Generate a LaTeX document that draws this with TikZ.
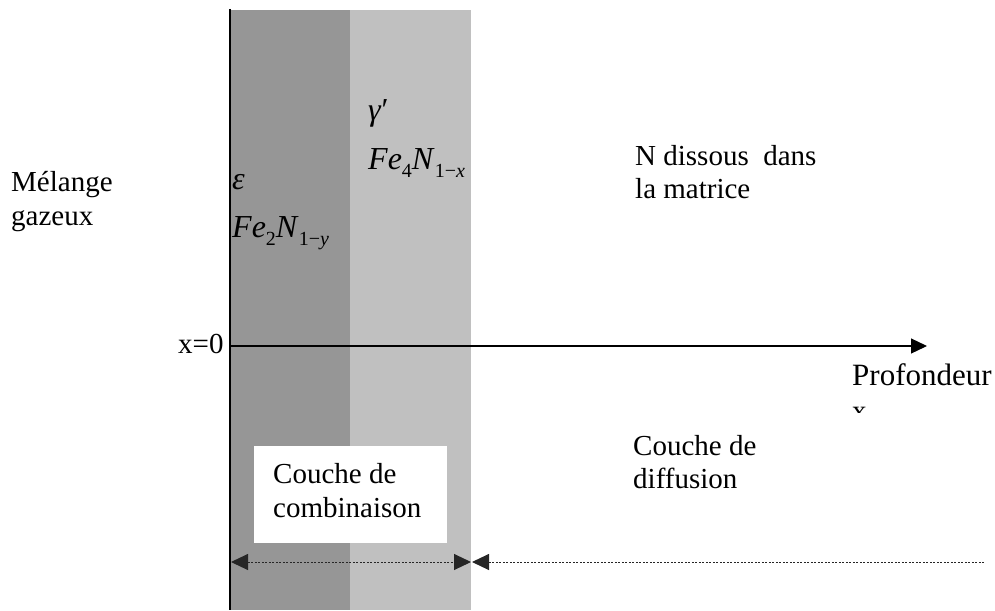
\documentclass[tikz,border=0pt]{standalone}
\usepackage{fontspec}
\setmainfont{Liberation Serif}
\usetikzlibrary{arrows.meta}
\definecolor{darkband}{RGB}{150,150,150}
\definecolor{lightband}{RGB}{192,192,192}
\newcommand{\subs}[1]{\raisebox{-8pt}{\fontsize{20}{20}\selectfont #1}}
\begin{document}
\begin{tikzpicture}[x=1pt,y=-1pt,
  txt/.style={inner sep=0pt, anchor=base west, font=\fontsize{29}{33}\selectfont},
  mathtxt/.style={inner sep=0pt, anchor=base west, font=\fontsize{32}{36}\selectfont},
  dimline/.style={line width=1pt, black!85, dash pattern=on 2pt off 1.5pt}]
\useasboundingbox (0,0) rectangle (995,610);
% bands
\fill[darkband] (230,10) rectangle (350,610);
\fill[lightband] (350,10) rectangle (471,610);
\draw[line width=1.5pt] (230,9) -- (230,610);
% axis
\coordinate (O) at (230,346);
\coordinate (E) at (927,346);
\draw[line width=1.2pt, -{Triangle[length=16pt,width=15pt]}] (O) -- (E);
% texts
\node[txt] (melange) at (11,191) {Mélange};
\node[txt] (gazeux) at (11,225) {gazeux};
\node[txt] (x0) at (178,353) {x=0};
\node[txt] (ndiss) at (635,165) {N dissous\ \ dans};
\node[txt] (matrice) at (635,198) {la matrice};
\node[txt] (cdiff1) at (633,455) {Couche de};
\node[txt] (cdiff2) at (633,488) {diffusion};
\node[inner sep=0pt, anchor=base west, font=\fontsize{31}{35}\selectfont] (prof) at (852,385) {Profondeur};
\begin{scope}
  \clip (850,405) rectangle (872,412);
  \node[txt] (xlab) at (852,420) {x};
\end{scope}
% phases
\node[mathtxt] (eps) at (232,189) {\itshape ε};
\node[mathtxt] (fe2n) at (232,237) {\textit{Fe}\subs{2}\textit{N}\subs{1−\textit{y}}};
\node[mathtxt] (gam) at (368,120) {\textit{γ}′};
\node[mathtxt] (fe4n) at (368,169) {\textit{Fe}\subs{4}\textit{N}\subs{1−\textit{x}}};
% white box
\fill[white] (254,446) rectangle (447,543);
\node[txt] (ccomb1) at (273,483) {Couche de};
\node[txt] (ccomb2) at (273,517) {combinaison};
% dimension lines
\coordinate (d1) at (231,562);
\coordinate (d2) at (471,562);
\coordinate (d3) at (472,562);
\coordinate (d4) at (985,562);
\draw[dimline, {Triangle[length=17pt,width=16pt]}-{Triangle[length=17pt,width=16pt]}] (d1) -- (d2);
\draw[dimline, {Triangle[length=17pt,width=16pt]}-] (d3) -- (d4);
\end{tikzpicture}
\end{document}
